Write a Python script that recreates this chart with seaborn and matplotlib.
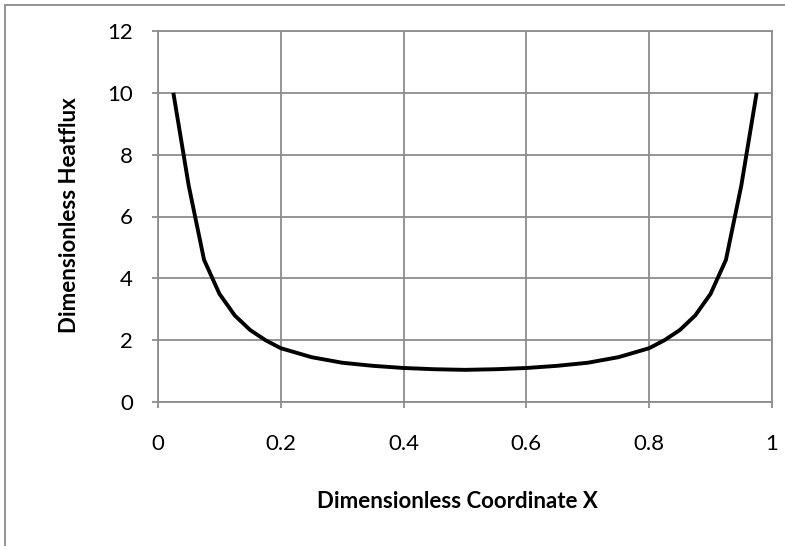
import matplotlib
matplotlib.use("Agg")
import matplotlib.pyplot as plt
import seaborn as sns
import pandas as pd
from matplotlib.patches import Rectangle

# ---- data ----
x_coord = [0.025, 0.05, 0.075, 0.1, 0.125, 0.15, 0.175, 0.2, 0.25, 0.3, 0.35, 0.4, 0.45, 0.5,
           0.55, 0.6, 0.65, 0.7, 0.75, 0.8, 0.825, 0.85, 0.875, 0.9, 0.925, 0.95, 0.975]
heatflux = [10.0, 7.0, 4.6, 3.5, 2.8, 2.33, 2.0, 1.74, 1.45, 1.27, 1.17, 1.1, 1.06, 1.04,
            1.06, 1.1, 1.17, 1.27, 1.45, 1.74, 2.0, 2.33, 2.8, 3.5, 4.6, 7.0, 10.0]
x_ticks = [0, 0.2, 0.4, 0.6, 0.8, 1]
x_tick_labels = ["0", "0.2", "0.4", "0.6", "0.8", "1"]
y_ticks = [0, 2, 4, 6, 8, 10, 12]
x_label = "Dimensionless Coordinate X"
y_label = "Dimensionless Heatflux"

df = pd.DataFrame({"x": x_coord, "y": heatflux})

sns.set_theme(style="white")
plt.rcParams["font.family"] = ["Lato", "DejaVu Sans"]

W, H = 785, 546
fig = plt.figure(figsize=(W / 100, H / 100), dpi=100)
ax = fig.add_axes([158 / W, 1 - 402 / H, 614 / W, 371 / H])

grid_c = "#8c8c8c"
sns.lineplot(data=df, x="x", y="y", ax=ax, color="black", linewidth=2.8,
             sort=False, estimator=None, solid_capstyle="butt",
             solid_joinstyle="round")

ax.set_xlim(0, 1)
ax.set_ylim(0, 12)
ax.set_xticks(x_ticks)
ax.set_xticklabels(x_tick_labels)
ax.set_yticks(y_ticks)
ax.grid(True, color=grid_c, linewidth=1.3)
ax.set_axisbelow(True)
for s in ax.spines.values():
    s.set_color(grid_c)
    s.set_linewidth(1.3)
ax.tick_params(axis="both", which="major", length=4, width=1.3, color=grid_c,
               labelsize=16, labelcolor="black")
ax.tick_params(axis="y", pad=14, left=True)
ax.tick_params(axis="x", pad=19, bottom=True)

ax.set_xlabel(x_label, fontsize=16, fontweight="bold", color="black")
ax.set_ylabel(y_label, fontsize=16, fontweight="bold", color="black")
ax.xaxis.label.set_va("center")
ax.yaxis.label.set_va("center")
ax.xaxis.set_label_coords((457 - 158) / 614, (402 - 502) / 371)
ax.yaxis.set_label_coords((70 - 158) / 614, (402 - 215) / 371)

# figure frame (Excel chart area border)
fig.patches.append(Rectangle((4.5 / W, -0.1), 1.2, 1 - 4.5 / H + 0.1,
                             transform=fig.transFigure, fill=False,
                             edgecolor="#8a8a8a", linewidth=1.3))

fig.savefig("out.png", dpi=100)
